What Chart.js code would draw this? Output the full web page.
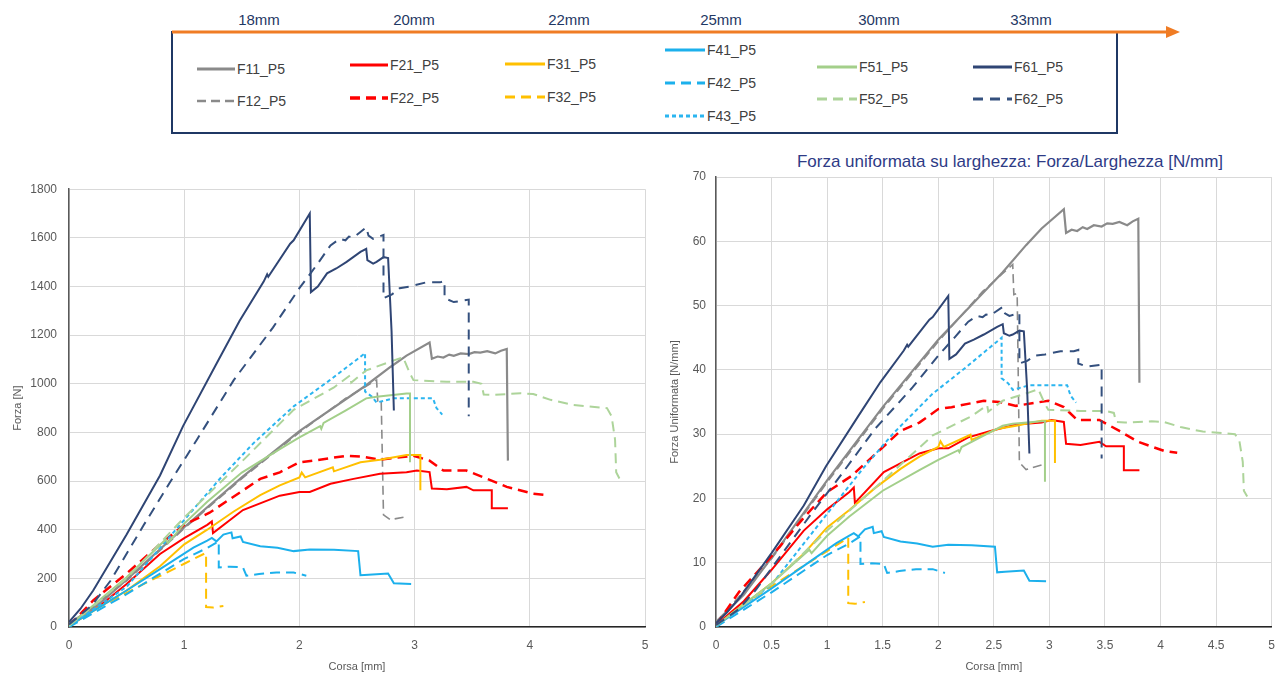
<!DOCTYPE html>
<html>
<head>
<meta charset="utf-8">
<script src="https://cdn.jsdelivr.net/npm/chart.js@4.4.1/dist/chart.umd.min.js"></script>
<style>
body { margin: 0; background: #fff; width: 1286px; height: 679px; overflow: hidden; position: relative; font-family: "Liberation Sans", Arial, sans-serif; }
#title { position: absolute; left: 740px; top: 152px; width: 540px; text-align: center; font-size: 17px; color: #2e3b86; }
.wrap { position: absolute; }
</style>
</head>
<body>
<svg id="legend" width="1286" height="140" style="position:absolute;left:0;top:0"></svg>
<div id="title">Forza uniformata su larghezza: Forza/Larghezza [N/mm]</div>
<div class="wrap" style="left:0;top:170px;width:660px;height:509px"><canvas id="forceChart"></canvas></div>
<div class="wrap" style="left:660px;top:140px;width:626px;height:539px"><canvas id="widthChart"></canvas></div>

<script>
// sample widths shown along the arrow
const widthLabels = ["18mm", "20mm", "22mm", "25mm", "30mm", "33mm"];
const seriesNames = ["F11_P5", "F12_P5", "F21_P5", "F22_P5", "F31_P5", "F32_P5",
    "F41_P5", "F42_P5", "F43_P5", "F51_P5", "F52_P5", "F61_P5", "F62_P5"];

const xTicksLeft = [0, 1, 2, 3, 4, 5];
const yTicksLeft = [0, 200, 400, 600, 800, 1000, 1200, 1400, 1600, 1800];
const xTicksRight = [0, 0.5, 1, 1.5, 2, 2.5, 3, 3.5, 4, 4.5, 5];
const yTicksRight = [0, 10, 20, 30, 40, 50, 60, 70];

// Corsa [mm]
const xF11 = [0, 0.25, 0.5, 1.0, 1.5, 2.0, 2.58, 2.79, 2.93, 3.13, 3.15, 3.2, 3.25, 3.3, 3.34, 3.4, 3.47, 3.52, 3.57, 3.63, 3.70, 3.75, 3.80, 3.81];
const xF12 = [0, 0.5, 1.0, 1.5, 2.0, 2.4, 2.67, 2.68, 2.71, 2.73, 2.79, 2.93];
const xF21 = [0, 0.25, 0.5, 0.79, 1.0, 1.20, 1.24, 1.25, 1.51, 1.83, 2.0, 2.09, 2.27, 2.47, 2.70, 2.93, 3.02, 3.13, 3.15, 3.28, 3.45, 3.51, 3.67, 3.67, 3.81];
const xF22 = [0, 0.21, 0.5, 0.79, 1.0, 1.22, 1.66, 1.83, 2.0, 2.12, 2.41, 2.55, 2.70, 2.99, 3.13, 3.25, 3.45, 3.63, 3.80, 4.03, 4.15];
const xF31 = [0, 0.5, 0.79, 1.0, 1.2, 1.43, 1.66, 1.83, 2.0, 2.02, 2.05, 2.29, 2.30, 2.53, 2.70, 2.93, 3.05, 3.05];
const xF32 = [0, 0.21, 0.65, 1.0, 1.19, 1.19, 1.25, 1.34];
const xF41 = [0, 0.5, 0.79, 1.08, 1.2, 1.24, 1.28, 1.34, 1.41, 1.42, 1.49, 1.51, 1.66, 1.81, 1.95, 2.09, 2.3, 2.51, 2.53, 2.6, 2.77, 2.82, 2.97];
const xF42 = [0, 0.5, 1.0, 1.2, 1.30, 1.30, 1.40, 1.51, 1.54, 1.65, 1.80, 1.95, 2.06];
const xF43 = [0, 0.5, 1.0, 1.32, 1.6, 1.95, 2.25, 2.50, 2.57, 2.57, 2.63, 2.67, 2.82, 3.05, 3.16, 3.19, 3.24];
const xF51 = [0, 0.5, 0.84, 0.86, 1.0, 1.2, 1.5, 1.83, 2.0, 2.18, 2.19, 2.21, 2.4, 2.58, 2.67, 2.93, 2.96, 2.96];
const xF52 = [0, 0.5, 1.0, 1.5, 1.95, 2.3, 2.44, 2.45, 2.58, 2.82, 2.90, 2.96, 2.99, 3.28, 3.51, 3.58, 3.60, 3.68, 3.92, 4.03, 4.18, 4.38, 4.67, 4.71, 4.74, 4.75, 4.78];
const xF61 = [0, 0.1, 0.21, 0.5, 0.79, 0.99, 1.28, 1.48, 1.69, 1.72, 1.73, 1.92, 1.95, 2.09, 2.10, 2.16, 2.24, 2.32, 2.41, 2.53, 2.58, 2.59, 2.64, 2.67, 2.73, 2.77, 2.80, 2.82];
const xF62 = [0, 0.2, 0.36, 0.65, 0.87, 1.11, 1.43, 1.77, 2.0, 2.15, 2.27, 2.35, 2.40, 2.43, 2.47, 2.58, 2.60, 2.64, 2.73, 2.73, 2.80, 2.87, 2.96, 3.10, 3.22, 3.26, 3.26, 3.34, 3.47, 3.47];

// Forza [N]
const fF11 = [15, 90, 195, 410, 615, 805, 994, 1069, 1116, 1170, 1103, 1112, 1108, 1120, 1115, 1125, 1122, 1130, 1128, 1134, 1125, 1136, 1143, 684];
const fF12 = [10, 190, 405, 610, 800, 940, 1015, 930, 935, 461, 441, 454];
const fF21 = [5, 80, 177, 300, 365, 420, 434, 386, 481, 540, 555, 555, 589, 609, 630, 636, 643, 637, 569, 566, 576, 562, 562, 488, 488];
const fF22 = [5, 109, 220, 340, 420, 470, 609, 636, 677, 684, 704, 700, 688, 704, 684, 643, 643, 609, 576, 548, 542];
const fF31 = [5, 150, 250, 340, 400, 475, 542, 582, 615, 635, 615, 657, 640, 677, 688, 707, 707, 562];
const fF32 = [0, 69, 177, 260, 305, 82, 80, 86];
const fF41 = [5, 150, 238, 326, 355, 366, 352, 380, 389, 365, 372, 350, 332, 326, 312, 319, 318, 312, 213, 215, 220, 180, 177];
const fF42 = [0, 135, 280, 325, 353, 245, 248, 245, 211, 218, 224, 224, 211];
const fF43 = [5, 165, 440, 615, 755, 907, 1010, 1100, 1126, 968, 947, 923, 940, 940, 940, 900, 873];
const fF51 = [5, 205, 360, 345, 425, 515, 635, 731, 780, 826, 815, 839, 890, 940, 947, 960, 960, 677];
const fF52 = [5, 200, 450, 680, 893, 985, 1035, 1005, 1055, 1096, 1109, 1042, 1015, 1008, 1008, 1000, 956, 954, 961, 958, 934, 913, 900, 866, 771, 636, 609];
const fF61 = [20, 75, 150, 380, 623, 826, 1082, 1258, 1420, 1450, 1440, 1576, 1590, 1700, 1377, 1400, 1454, 1474, 1501, 1542, 1555, 1508, 1494, 1501, 1521, 1517, 1217, 890];
const fF62 = [10, 90, 190, 420, 590, 770, 1015, 1231, 1393, 1488, 1569, 1596, 1590, 1605, 1602, 1643, 1609, 1596, 1612, 1352, 1366, 1393, 1400, 1417, 1417, 1423, 1352, 1336, 1346, 866];

// Forza Uniformata [N/mm]
const uF11 = [0.8, 5.0, 10.8, 22.8, 34.2, 44.7, 55.2, 59.4, 62.0, 65.0, 61.3, 61.8, 61.6, 62.2, 61.9, 62.5, 62.3, 62.8, 62.7, 63.0, 62.5, 63.1, 63.5, 38.0];
const uF12 = [0.6, 10.6, 22.5, 33.9, 44.4, 52.2, 56.4, 51.7, 51.9, 25.6, 24.5, 25.2];
const uF21 = [0.3, 4.0, 8.9, 15.0, 18.3, 21.0, 21.7, 19.3, 24.1, 27.0, 27.8, 27.8, 29.5, 30.5, 31.5, 31.8, 32.2, 31.9, 28.5, 28.3, 28.8, 28.1, 28.1, 24.4, 24.4];
const uF22 = [0.3, 5.5, 11.0, 17.0, 21.0, 23.5, 30.5, 31.8, 33.9, 34.2, 35.2, 35.0, 34.4, 35.2, 34.2, 32.2, 32.2, 30.5, 28.8, 27.4, 27.1];
const uF31 = [0.2, 6.8, 11.4, 15.5, 18.2, 21.6, 24.6, 26.5, 28.0, 28.9, 28.0, 29.9, 29.1, 30.8, 31.3, 32.1, 32.1, 25.5];
const uF32 = [0, 3.1, 8.0, 11.8, 13.9, 3.7, 3.6, 3.9];
const uF41 = [0.2, 6.0, 9.5, 13.0, 14.2, 14.6, 14.1, 15.2, 15.6, 14.6, 14.9, 14.0, 13.3, 13.0, 12.5, 12.8, 12.7, 12.5, 8.5, 8.6, 8.8, 7.2, 7.1];
const uF42 = [0, 5.4, 11.2, 13.0, 14.1, 9.8, 9.9, 9.8, 8.4, 8.7, 9.0, 9.0, 8.4];
const uF43 = [0.2, 6.6, 17.6, 24.6, 30.2, 36.3, 40.4, 44.0, 45.0, 38.7, 37.9, 36.9, 37.6, 37.6, 37.6, 36.0, 34.9];
const uF51 = [0.2, 6.8, 12.0, 11.5, 14.2, 17.2, 21.2, 24.4, 26.0, 27.5, 27.2, 28.0, 29.7, 31.3, 31.6, 32.0, 32.0, 22.6];
const uF52 = [0.2, 6.7, 15.0, 22.7, 29.8, 32.8, 34.5, 33.5, 35.2, 36.5, 37.0, 34.7, 33.8, 33.6, 33.6, 33.3, 31.9, 31.8, 32.0, 31.9, 31.1, 30.4, 30.0, 28.9, 25.7, 21.2, 20.3];
const uF61 = [0.6, 2.3, 4.5, 11.5, 18.9, 25.0, 32.8, 38.1, 43.0, 43.9, 43.6, 47.8, 48.2, 51.5, 41.7, 42.4, 44.1, 44.7, 45.5, 46.7, 47.1, 45.7, 45.3, 45.5, 46.1, 46.0, 36.9, 27.0];
const uF62 = [0.3, 2.7, 5.8, 12.7, 17.9, 23.3, 30.8, 37.3, 42.2, 45.1, 47.5, 48.4, 48.2, 48.6, 48.5, 49.8, 48.8, 48.4, 48.8, 41.0, 41.4, 42.2, 42.4, 42.9, 42.9, 43.1, 41.0, 40.5, 40.8, 26.2];

const xSeries = [xF11, xF12, xF21, xF22, xF31, xF32, xF41, xF42, xF43, xF51, xF52, xF61, xF62];
const forceSeries = [fF11, fF12, fF21, fF22, fF31, fF32, fF41, fF42, fF43, fF51, fF52, fF61, fF62];
const widthSeries = [uF11, uF12, uF21, uF22, uF31, uF32, uF41, uF42, uF43, uF51, uF52, uF61, uF62];

// line looks, same order as seriesNames
const lineStyles = [
    { color: "#8a8a8a", width: 2.2, dash: [] },
    { color: "#8a8a8a", width: 1.6, dash: [9, 5] },
    { color: "#ff0000", width: 2, dash: [] },
    { color: "#ff0000", width: 2.5, dash: [10, 6] },
    { color: "#ffc000", width: 2, dash: [] },
    { color: "#ffc000", width: 2, dash: [10, 6] },
    { color: "#1cb0ec", width: 2, dash: [] },
    { color: "#1cb0ec", width: 2, dash: [10, 6] },
    { color: "#2bb5f0", width: 2, dash: [4, 3] },
    { color: "#a3cf8a", width: 2, dash: [] },
    { color: "#add49a", width: 2, dash: [10, 6] },
    { color: "#2f4574", width: 2, dash: [] },
    { color: "#34507e", width: 2, dash: [10, 7] }
];

// legend placement: [lineStart, lineEnd, y]
const legendSpots = [
    [197, 235, 69], [197, 235, 101], [350, 388, 65], [350, 388, 98],
    [505, 545, 64], [505, 545, 97], [665, 705, 50], [665, 705, 83], [665, 705, 116],
    [817, 857, 67], [817, 857, 99], [973, 1012, 67], [973, 1012, 99]
];
const widthLabelX = [259, 414, 569, 721, 879, 1031];

function drawLegend() {
    const svg = document.getElementById("legend");
    let html = '';
    html += '<rect x="172" y="32" width="945" height="101" fill="none" stroke="#1f3864" stroke-width="2"/>';
    html += '<line x1="172" y1="32" x2="1168" y2="32" stroke="#f07c24" stroke-width="3"/>';
    html += '<polygon points="1166,26 1180,32 1166,38" fill="#f07c24"/>';
    widthLabels.forEach((t, i) => {
        html += `<text x="${widthLabelX[i]}" y="25" text-anchor="middle" font-size="15" fill="#1f3864" font-family="Liberation Sans, Arial">${t}</text>`;
    });
    seriesNames.forEach((name, i) => {
        const [x1, x2, y] = legendSpots[i];
        const st = lineStyles[i];
        const dash = st.dash.length ? `stroke-dasharray="${st.dash.join(",")}"` : "";
        html += `<line x1="${x1}" y1="${y}" x2="${x2}" y2="${y}" stroke="${st.color}" stroke-width="${st.width + 0.8}" ${dash}/>`;
        html += `<text x="${x2 + 2}" y="${y + 5}" font-size="14" fill="#404040" font-family="Liberation Sans, Arial">${name}</text>`;
    });
    svg.innerHTML = html;
}

function buildDatasets(yValues) {
    return seriesNames.map((name, i) => ({
        label: name,
        data: xSeries[i].map((x, k) => ({ x: x, y: yValues[i][k] })),
        borderColor: lineStyles[i].color,
        borderWidth: lineStyles[i].width,
        borderDash: lineStyles[i].dash,
        pointRadius: 0,
        tension: 0,
        fill: false,
        order: seriesNames.length - i
    }));
}

function axisFont(size) {
    return { family: "Liberation Sans, Arial", size: size };
}

function renderChart(canvasId, yValues, cfg) {
    const ctx = document.getElementById(canvasId).getContext("2d");
    return new Chart(ctx, {
        type: "line",
        data: { datasets: buildDatasets(yValues) },
        options: {
            responsive: true,
            maintainAspectRatio: false,
            animation: false,
            layout: { padding: cfg.padding },
            plugins: {
                legend: { display: false },
                tooltip: { enabled: false }
            },
            scales: {
                x: {
                    type: "linear",
                    min: cfg.xTicks[0],
                    max: cfg.xTicks[cfg.xTicks.length - 1],
                    afterBuildTicks: axis => { axis.ticks = cfg.xTicks.map(v => ({ value: v })); },
                    afterFit: axis => { axis.height = 52; },
                    ticks: { color: "#595959", font: axisFont(12), padding: 11, maxRotation: 0, callback: v => String(v) },
                    grid: { color: "#d9d9d9", lineWidth: 1, drawTicks: false },
                    border: { color: "#262626", width: 1.5 },
                    title: { display: true, text: "Corsa [mm]", color: "#595959", font: axisFont(11), padding: { top: 0, bottom: 5 } }
                },
                y: {
                    min: cfg.yTicks[0],
                    max: cfg.yTicks[cfg.yTicks.length - 1],
                    afterBuildTicks: axis => { axis.ticks = cfg.yTicks.map(v => ({ value: v })); },
                    afterFit: axis => { axis.width = cfg.yAxisWidth; },
                    ticks: { color: "#595959", font: axisFont(12), padding: cfg.yPad, callback: v => String(v) },
                    grid: { color: "#d9d9d9", lineWidth: 1, drawTicks: false },
                    border: { color: "#595959", width: 1.5 },
                    title: { display: true, text: cfg.yTitle, color: "#595959", font: axisFont(11), padding: { top: cfg.yTitlePad, bottom: 0 } }
                }
            }
        }
    });
}

drawLegend();

renderChart("forceChart", forceSeries, {
    padding: { left: 0, right: 15, top: 13, bottom: 0 },
    xTicks: xTicksLeft, yTicks: yTicksLeft,
    yAxisWidth: 69, yPad: 12, yTitle: "Forza [N]", yTitlePad: 11
});

renderChart("widthChart", widthSeries, {
    padding: { left: 0, right: 12, top: 37, bottom: 0 },
    xTicks: xTicksRight, yTicks: yTicksRight,
    yAxisWidth: 56, yPad: 10, yTitle: "Forza Uniformata [N/mm]", yTitlePad: 8
});
</script>
</body>
</html>
